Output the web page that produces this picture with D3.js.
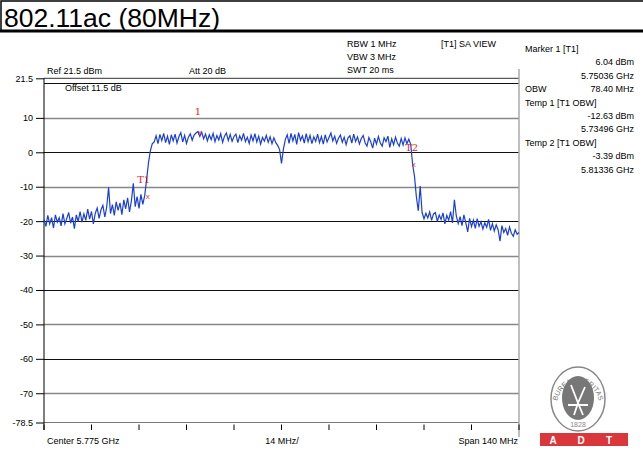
<!DOCTYPE html>
<html>
<head>
<meta charset="utf-8">
<script src="https://cdn.jsdelivr.net/npm/d3@7"></script>
<style>
  body { margin: 0; background: #fff; }
  svg { display: block; font-family: "Liberation Sans", Arial, sans-serif; }
</style>
</head>
<body>
<svg id="chart" width="643" height="450"></svg>
<script>
// sweep: 5.705 GHz .. 5.845 GHz, 251 points
const startGHz = 5.705;
const stopGHz = 5.845;
const yTicks = [21.5, 10, 0, -10, -20, -30, -40, -50, -60, -70, -78.5];
const gridLevels = [20, 10, 0, -10, -20, -30, -40, -50, -60, -70];
const xDivs = d3.range(0, 11);

// trace values in dBm
const traceLeft = [
  -19.5, -21.5, -18.3, -20.8, -19, -22, -18.2, -20.3, -19, -21.4,
  -17.8, -20.8, -19.2, -17.5, -20.6, -18.8, -22.2, -18.2, -20.1, -17.2,
  -20.3, -17.9, -19.8, -16.5, -19.4, -17.2, -20.8, -17.7, -16.2, -19.2,
  -16.7, -15.4, -18.8, -15.9, -10.2, -17.8, -15.2, -18.3, -14.4, -16.9,
  -14.7, -18.1, -13.8, -16.4, -13.2, -17.3, -14.1, -9, -15.8, -12.9,
  -16.3, -12.2, -15.1, -12.6,
  -8, -3, 0.5, 2.5
];
const tracePlateau = [
  3.0, 4.8, 2.5, 5.2, 3.4, 5.5, 2.8, 4.7, 2.3, 5.1,
  3.3, 5.3, 2.7, 4.5, 5.7, 3.0, 4.9, 2.6, 4.4, 5.4,
  3.5, 5.0, 5.6, 6.04, 4.6, 5.9, 3.9, 5.3, 3.3, 5.1,
  3.7, 5.5, 3.1, 4.9, 3.6, 5.4, 2.9, 4.7, 5.6, 3.4,
  5.2, 3.2, 4.6, 5.3, 2.8, 4.8, 3.5, 5.5, 3.1, 4.4,
  2.6, 5.0, 3.3, 5.4, 3.0, 4.7, 2.4, 4.3, 3.2, 4.9,
  2.9, 4.5, 2.5, 4.2, 2.8, 2.0, 0.8, -3.2, 0.9, 3.7,
  5.1, 2.6, 5.5, 3.3, 5.2, 2.3, 5.7, 3.5, 4.8, 2.7,
  5.4, 3.1, 4.9, 2.5, 4.5, 3.2, 5.3, 2.8, 4.6, 2.4,
  5.1, 3.0, 4.3, 5.6, 3.3, 4.7, 2.6, 4.1, 5.0, 2.9,
  4.4, 2.2, 4.2, 4.8, 2.7, 5.3, 3.1, 4.5, 2.4, 4.0,
  4.9, 2.8, 1.8, 4.3, 3.0, 1.2, 4.1, 2.4, 4.6, 2.7,
  1.8, 4.2, 3.1, 4.7, 1.4, 3.9, 2.2, 4.4, 2.7, 1.8,
  4.0, 2.1, 4.2, 2.5, 3.8, 2.3
];
const traceRight = [
  -3.4, -7, -13, -17, -9.8,
  -17.5,
  -19.3, -17.7, -19.1, -17.3, -19.8, -17.9, -17.5, -20.1, -18.2,
  -19.5, -17.6, -20.8, -18.3, -19.7, -17.2, -20.5, -13.8, -18.5, -20.7,
  -18.7, -21.3, -18.2, -20.5, -23.1, -19.2, -21.6, -19.7, -22.1, -19.3,
  -21.5, -20.2, -22.3, -20.5, -21.8, -19.5, -22.7, -20.7, -22.9, -21.1,
  -22.5, -25.8, -21.3, -23.3, -22.1, -24.1, -21.7, -23.5, -24.4, -22.5, -23.8, -23.3
];
const trace = traceLeft.concat(tracePlateau, traceRight);

const markerNames = ["1", "T1", "T2"];
const markerFreqs = [5.75036, 5.73496, 5.81336];
const markerLevels = [6.04, -12.63, -3.39];

const headerLeft = ["RBW 1 MHz", "VBW 3 MHz", "SWT 20 ms"];
const markerInfo = [
  ["Marker 1 [T1]", ""], ["", "6.04 dBm"], ["", "5.75036 GHz"],
  ["OBW", "78.40 MHz"], ["Temp 1 [T1 OBW]", ""], ["", "-12.63 dBm"],
  ["", "5.73496 GHz"], ["Temp 2 [T1 OBW]", ""], ["", "-3.39 dBm"], ["", "5.81336 GHz"]
];

const svg = d3.select("#chart");
const plot = { left: 44, right: 519, top: 78.3, bottom: 422.5 };

const x = d3.scaleLinear().domain([startGHz, stopGHz]).range([plot.left, plot.right]);
const y = d3.scaleLinear().domain([-78.5, 21.5]).range([plot.bottom, plot.top]);
const step = (stopGHz - startGHz) / (trace.length - 1);

// title box
svg.append("rect").attr("x", 1).attr("y", 1).attr("width", 660).attr("height", 30)
  .attr("fill", "none").attr("stroke", "#000").attr("stroke-width", 1.5);
svg.append("line").attr("x1", 0).attr("x2", 643).attr("y1", 31).attr("y2", 31)
  .attr("stroke", "#000").attr("stroke-width", 3);
svg.append("text").attr("x", 4).attr("y", 26.5).attr("font-size", 26.5)
  .text("802.11ac (80MHz)");

// header text
const small = 9;
svg.append("g").selectAll("text").data(headerLeft).enter().append("text")
  .attr("x", 347).attr("y", (d, i) => 47 + i * 13).attr("font-size", small).text(d => d);
svg.append("text").attr("x", 441).attr("y", 47).attr("font-size", small).text("[T1] SA VIEW");
svg.append("text").attr("x", 47).attr("y", 74).attr("font-size", small).text("Ref 21.5 dBm");
svg.append("text").attr("x", 189).attr("y", 74).attr("font-size", small).text("Att  20 dB");
svg.append("text").attr("x", 65).attr("y", 91).attr("font-size", small).text("Offset 11.5 dB");

const info = svg.append("g").selectAll("g").data(markerInfo).enter().append("g");
info.append("text").attr("x", 525).attr("y", (d, i) => 52 + i * 13.4)
  .attr("font-size", small).text(d => d[0]);
info.append("text").attr("x", 634).attr("y", (d, i) => 52 + i * 13.4)
  .attr("font-size", small).attr("text-anchor", "end").text(d => d[1]);

// grid
svg.append("g").selectAll("line").data(gridLevels).enter().append("line")
  .attr("x1", plot.left).attr("x2", plot.right)
  .attr("y1", d => Math.round(y(d)) + 0.5).attr("y2", d => Math.round(y(d)) + 0.5)
  .attr("stroke", (d, i) => i % 2 ? "#888" : "#111")
  .attr("stroke-width", (d, i) => i % 2 ? 1.6 : 1);

// frame
svg.append("line").attr("x1", plot.left).attr("x2", plot.right)
  .attr("y1", plot.top).attr("y2", plot.top).attr("stroke", "#333");
svg.append("line").attr("x1", plot.left).attr("x2", plot.right)
  .attr("y1", plot.bottom).attr("y2", plot.bottom).attr("stroke", "#777").attr("stroke-width", 1.2);
svg.append("line").attr("x1", plot.left).attr("x2", plot.left)
  .attr("y1", plot.top).attr("y2", 430).attr("stroke", "#000");
svg.append("line").attr("x1", plot.right).attr("x2", plot.right)
  .attr("y1", 69).attr("y2", 437).attr("stroke", "#aaa").attr("stroke-width", 1.5);

// y axis
const yAxis = d3.axisLeft(y).tickValues(yTicks).tickSize(8).tickPadding(3)
  .tickFormat(d => String(d));
const gy = svg.append("g").attr("transform", `translate(${plot.left},0)`).call(yAxis);
gy.select(".domain").remove();
gy.selectAll("text").attr("font-size", small).attr("font-family", "Liberation Sans, Arial, sans-serif");
gy.selectAll("line").attr("stroke", "#000");

// x divisions
const xDiv = d3.scaleLinear().domain([0, 10]).range([plot.left, plot.right]);
svg.append("g").selectAll("line").data(xDivs).enter().append("line")
  .attr("x1", d => xDiv(d)).attr("x2", d => xDiv(d))
  .attr("y1", plot.bottom + 2).attr("y2", 430).attr("stroke", "#000");
svg.append("text").attr("x", 47).attr("y", 444).attr("font-size", small).text("Center 5.775 GHz");
svg.append("text").attr("x", 282).attr("y", 444).attr("font-size", small)
  .attr("text-anchor", "middle").text("14 MHz/");
svg.append("text").attr("x", 518).attr("y", 444).attr("font-size", small)
  .attr("text-anchor", "end").text("Span 140 MHz");

// trace
const line = d3.line()
  .x((d, i) => x(startGHz + i * step))
  .y(d => y(d));
svg.append("path").datum(trace).attr("d", line)
  .attr("fill", "none").attr("stroke", "#1b3fd6").attr("stroke-width", 1.2);

// markers
const mk = svg.append("g").selectAll("g").data(markerNames).enter().append("g");
mk.append("text")
  .attr("x", (d, i) => x(markerFreqs[i]) + 2).attr("y", (d, i) => y(markerLevels[i]) + 3)
  .attr("text-anchor", "middle").attr("font-size", 8).attr("fill", "#e33").text("x");
mk.append("text")
  .attr("x", (d, i) => x(markerFreqs[i]) + (i === 1 ? -2 : 0))
  .attr("y", (d, i) => y(markerLevels[i]) - (i === 0 ? 17 : 13))
  .attr("text-anchor", "middle").attr("font-size", 10)
  .attr("font-family", "DejaVu Serif, serif").attr("fill", "#e22").text(d => d);

// logo
const logo = svg.append("g").attr("transform", "translate(578,399)");
logo.append("ellipse").attr("rx", 27).attr("ry", 32).attr("fill", "#fff")
  .attr("stroke", "#888").attr("stroke-width", 1.5);
logo.append("ellipse").attr("rx", 16).attr("ry", 22).attr("cy", -1).attr("fill", "#777");
logo.append("path").attr("id", "arc")
  .attr("d", "M -22 10 A 22 27 0 1 1 22 10").attr("fill", "none");
logo.append("text").attr("font-size", 7).attr("fill", "#777")
  .append("textPath").attr("href", "#arc").attr("startOffset", "50%")
  .attr("text-anchor", "middle").text("BUREAU VERITAS");
logo.append("text").attr("y", 28).attr("font-size", 7).attr("fill", "#888")
  .attr("text-anchor", "middle").text("1828");
logo.append("path").attr("d", "M -7 -14 L 0 4 L 7 -12 M -10 6 L 10 6 M 0 4 L -4 16 M 0 4 L 5 16")
  .attr("stroke", "#fff").attr("stroke-width", 1.8).attr("fill", "none");

svg.append("rect").attr("x", 540).attr("y", 433).attr("width", 88).attr("height", 13).attr("fill", "#d9373c");
svg.append("g").selectAll("text").data(["A", "D", "T"]).enter().append("text")
  .attr("x", (d, i) => 553 + i * 28).attr("y", 444).attr("font-size", 10).attr("font-weight", "bold")
  .attr("fill", "#fff").attr("text-anchor", "middle").text(d => d);
</script>
</body>
</html>
